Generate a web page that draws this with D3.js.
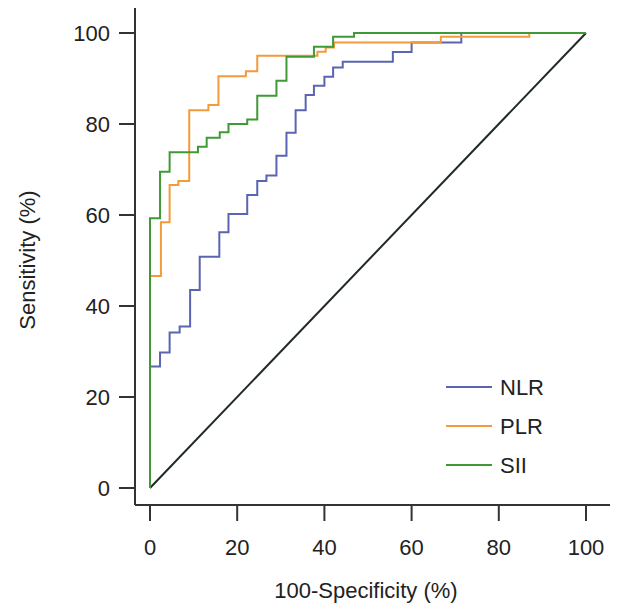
<!DOCTYPE html>
<html><head><meta charset="utf-8">
<script src="https://cdn.jsdelivr.net/npm/d3@7"></script>
<style>body{margin:0;background:#fff}</style>
</head><body><svg id="c" width="620" height="611"></svg>
<script>
// step points [100-specificity, sensitivity]
const nlr = [[0,0],[0,26.7],[2.3,26.7],[2.3,29.8],[4.5,29.8],[4.5,34.2],[6.8,34.2],[6.8,35.5],[9.2,35.5],[9.2,43.5],[11.4,43.5],[11.4,50.8],[15.9,50.8],[15.9,56.2],[18,56.2],[18,60.2],[22.3,60.2],[22.3,64.4],[24.6,64.4],[24.6,67.5],[26.7,67.5],[26.7,68.7],[29,68.7],[29,73],[31.3,73],[31.3,78.1],[33.4,78.1],[33.4,83],[35.7,83],[35.7,86.4],[37.6,86.4],[37.6,88.4],[40,88.4],[40,90.4],[42,90.4],[42,92.4],[44.2,92.4],[44.2,93.7],[55.7,93.7],[55.7,95.8],[60,95.8],[60,97.9],[71.4,97.9],[71.4,100],[100,100]];
const plr = [[0,0],[0,46.6],[2.5,46.6],[2.5,58.4],[4.5,58.4],[4.5,66.6],[6.5,66.6],[6.5,67.5],[9,67.5],[9,83],[13.4,83],[13.4,84.2],[15.7,84.2],[15.7,90.5],[22,90.5],[22,91.6],[24.6,91.6],[24.6,95],[38.4,95],[38.4,95.9],[40.3,95.9],[40.3,96.8],[42.2,96.8],[42.2,97.9],[66.7,97.9],[66.7,99.2],[87,99.2],[87,100],[100,100]];
const sii = [[0,0],[0,59.3],[2.3,59.3],[2.3,69.5],[4.5,69.5],[4.5,73.8],[11,73.8],[11,75],[13,75],[13,77],[16,77],[16,78.2],[18,78.2],[18,80],[22.3,80],[22.3,81],[24.6,81],[24.6,86.2],[29,86.2],[29,89.5],[31.3,89.5],[31.3,94.8],[37.6,94.8],[37.6,97],[42,97],[42,99.2],[46.8,99.2],[46.8,100],[100,100]];
const names = ["NLR","PLR","SII"];
const colors = ["#5a64b0","#f39a3a","#3f9a35"];
const ticks = [0,20,40,60,80,100];

const svg = d3.select("#c");
const x = d3.scaleLinear().domain([0,100]).range([150,586]);
const y = d3.scaleLinear().domain([0,100]).range([488,33]);
const font = "Liberation Sans, Arial, sans-serif";
const fs = 22;

// axes
svg.append("line").attr("x1",135).attr("x2",135).attr("y1",8).attr("y2",505).attr("stroke","#333").attr("stroke-width",2);
svg.append("line").attr("x1",135).attr("x2",610).attr("y1",505).attr("y2",505).attr("stroke","#333").attr("stroke-width",2);
ticks.forEach(t => {
  svg.append("line").attr("x1",119).attr("x2",135).attr("y1",y(t)).attr("y2",y(t)).attr("stroke","#333").attr("stroke-width",2);
  svg.append("text").attr("x",110).attr("y",y(t)).attr("dy","0.35em").attr("text-anchor","end")
    .attr("font-family",font).attr("font-size",fs).attr("fill","#222").text(t);
  svg.append("line").attr("x1",x(t)).attr("x2",x(t)).attr("y1",505).attr("y2",521).attr("stroke","#333").attr("stroke-width",2);
  svg.append("text").attr("x",x(t)).attr("y",555).attr("text-anchor","middle")
    .attr("font-family",font).attr("font-size",fs).attr("fill","#222").text(t);
});
svg.append("text").attr("x",366).attr("y",598).attr("text-anchor","middle").attr("font-family",font).attr("font-size",fs).attr("fill","#222").text("100-Specificity (%)");
svg.append("text").attr("transform","translate(35,260) rotate(-90)").attr("text-anchor","middle").attr("font-family",font).attr("font-size",fs).attr("fill","#222").text("Sensitivity (%)");

const line = d3.line().x(d=>x(d[0])).y(d=>y(d[1]));
svg.append("path").attr("d",line([[0,0],[100,100]])).attr("fill","none").attr("stroke","#1e2a22").attr("stroke-width",2);
[nlr,plr,sii].forEach((s,i)=>{
  svg.append("path").attr("d",line(s)).attr("fill","none").attr("stroke",colors[i]).attr("stroke-width",2);
});

// legend
names.forEach((n,i)=>{
  const ly = 387 + i*39;
  svg.append("line").attr("x1",446).attr("x2",492).attr("y1",ly).attr("y2",ly).attr("stroke",colors[i]).attr("stroke-width",2);
  svg.append("text").attr("x",500).attr("y",ly).attr("dy","0.35em").attr("font-family",font).attr("font-size",fs).attr("fill","#222").text(n);
});
</script></body></html>
